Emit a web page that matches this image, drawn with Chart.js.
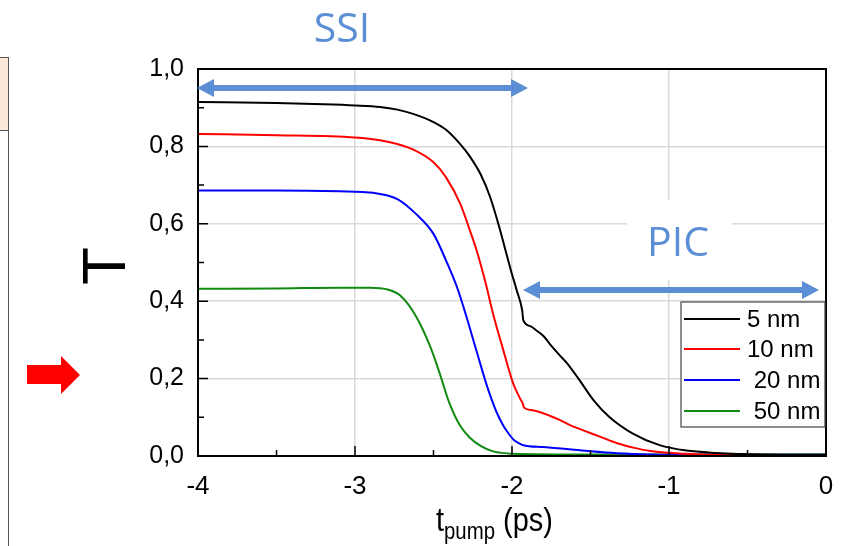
<!DOCTYPE html>
<html>
<head>
<meta charset="utf-8">
<script src="https://cdn.jsdelivr.net/npm/chart.js@4.4.1/dist/chart.umd.min.js"></script>
<style>
  body { margin: 0; background: #fff; }
  #wrap { width: 851px; height: 546px; position: relative; }
</style>
</head>
<body>
<div id="wrap"><canvas id="grafico"></canvas></div>
<script>
// dados (t_pump em ps, T)
const labels = ["5 nm", "10 nm", " 20 nm", " 50 nm"];
const colors = ["#000000", "#ff0000", "#0000ff", "#108a10"];

const t5 = [-4, -3.5, -3.2, -3, -2.84, -2.73, -2.63, -2.5, -2.42, -2.33, -2.27, -2.2, -2.14, -2.08, -2.045, -2.01, -1.97, -1.935, -1.928, -1.88, -1.84, -1.8, -1.76, -1.7, -1.65, -1.57, -1.48, -1.38, -1.23, -1.06, -0.89, -0.7, -0.4, 0];
const T5 = [0.915, 0.912, 0.909, 0.906, 0.902, 0.895, 0.884, 0.863, 0.843, 0.806, 0.775, 0.728, 0.670, 0.590, 0.537, 0.484, 0.428, 0.376, 0.351, 0.335, 0.323, 0.310, 0.290, 0.262, 0.240, 0.196, 0.144, 0.101, 0.058, 0.028, 0.014, 0.008, 0.004, 0.003];

const t10 = [-4, -3.5, -3, -2.84, -2.73, -2.63, -2.5, -2.42, -2.33, -2.27, -2.225, -2.17, -2.119, -2.055, -1.992, -1.949, -1.932, -1.923, -1.87, -1.82, -1.76, -1.69, -1.63, -1.55, -1.44, -1.33, -1.22, -1.12, -0.91, -0.6, 0];
const T10 = [0.832, 0.829, 0.823, 0.816, 0.806, 0.792, 0.759, 0.720, 0.652, 0.585, 0.531, 0.450, 0.365, 0.273, 0.187, 0.149, 0.136, 0.125, 0.118, 0.113, 0.104, 0.092, 0.080, 0.067, 0.050, 0.033, 0.021, 0.013, 0.006, 0.003, 0.002];

const t20 = [-4, -3.5, -3.1, -2.88, -2.73, -2.61, -2.5, -2.42, -2.35, -2.29, -2.225, -2.16, -2.1, -2.055, -2.02, -1.992, -1.96, -1.928, -1.8, -1.65, -1.5, -1.33, -1.12, -0.8, 0];
const T20 = [0.686, 0.686, 0.684, 0.680, 0.664, 0.625, 0.574, 0.505, 0.436, 0.360, 0.270, 0.182, 0.115, 0.078, 0.057, 0.043, 0.034, 0.028, 0.023, 0.018, 0.012, 0.007, 0.004, 0.003, 0.003];

const t50 = [-4, -3.5, -3.1, -2.9, -2.8, -2.71, -2.61, -2.52, -2.46, -2.4, -2.33, -2.27, -2.2, -2.12, -2, -1.5, 0];
const T50 = [0.432, 0.433, 0.435, 0.435, 0.431, 0.414, 0.360, 0.282, 0.213, 0.138, 0.078, 0.048, 0.026, 0.012, 0.006, 0.004, 0.004];

const xTicks = [-4, -3, -2, -1, 0];
const yTicks = [0, 0.2, 0.4, 0.6, 0.8, 1.0];

const seriesT = [t5, t10, t20, t50];
const seriesV = [T5, T10, T20, T50];

const FONTE = "'Liberation Sans', Arial, sans-serif";
const AZUL = "#5b8ed5";

const datasets = seriesV.map((vals, i) => ({
    label: labels[i],
    data: vals.map((v, j) => ({ x: seriesT[i][j], y: v })),
    borderColor: colors[i],
    borderWidth: 2,
    pointRadius: 0,
    fill: false,
    cubicInterpolationMode: "monotone"
}));

function setaDupla(ctx, x1, x2, y) {
    const head = 17, half = 9, shaft = 3;
    ctx.fillStyle = AZUL;
    ctx.beginPath();
    ctx.moveTo(x1, y);
    ctx.lineTo(x1 + head, y - half);
    ctx.lineTo(x1 + head, y - shaft);
    ctx.lineTo(x2 - head, y - shaft);
    ctx.lineTo(x2 - head, y - half);
    ctx.lineTo(x2, y);
    ctx.lineTo(x2 - head, y + half);
    ctx.lineTo(x2 - head, y + shaft);
    ctx.lineTo(x1 + head, y + shaft);
    ctx.lineTo(x1 + head, y + half);
    ctx.closePath();
    ctx.fill();
}

// desenha tudo que nao e do grafico em si
const extras = {
    id: "extras",
    beforeDatasetsDraw(chart) {
        const ctx = chart.ctx;
        ctx.save();
        // caixa branca do texto PIC (corta a grade)
        ctx.fillStyle = "#fff";
        ctx.fillRect(627, 200, 105, 80);
        ctx.restore();
    },
    afterDatasetsDraw(chart) {
        const ctx = chart.ctx;
        const a = chart.chartArea;
        const xs = chart.scales.x, ys = chart.scales.y;
        ctx.save();

        // moldura
        ctx.strokeStyle = "#000";
        ctx.lineWidth = 2;
        ctx.strokeRect(a.left, a.top, a.right - a.left, a.bottom - a.top);

        // ticks para dentro
        ctx.lineWidth = 1.5;
        ctx.beginPath();
        for (let v = -4; v <= 0.001; v += 0.5) {
            const px = xs.getPixelForValue(v);
            const len = Math.abs(v - Math.round(v)) < 0.01 ? 10 : 6;
            ctx.moveTo(px, a.bottom);
            ctx.lineTo(px, a.bottom - len);
        }
        for (let v = 0; v <= 1.001; v += 0.1) {
            const py = ys.getPixelForValue(v);
            const len = Math.round(v * 10) % 2 === 0 ? 10 : 6;
            ctx.moveTo(a.left, py);
            ctx.lineTo(a.left + len, py);
        }
        ctx.stroke();

        // legenda
        const lx = 681, ly = 302, lw = 144, lh = 125;
        ctx.fillStyle = "#fff";
        ctx.fillRect(lx, ly, lw, lh);
        ctx.strokeStyle = "#444";
        ctx.lineWidth = 1.2;
        ctx.strokeRect(lx, ly, lw, lh);
        ctx.font = "24px " + FONTE;
        ctx.textBaseline = "middle";
        const rows = [319, 349, 380, 411];
        chart.data.datasets.forEach((ds, i) => {
            ctx.strokeStyle = ds.borderColor;
            ctx.lineWidth = 2;
            ctx.beginPath();
            ctx.moveTo(lx + 3, rows[i]);
            ctx.lineTo(lx + 59, rows[i]);
            ctx.stroke();
            ctx.fillStyle = "#000";
            ctx.fillText(ds.label, lx + 66, rows[i] + 1);
        });

        // setas SSI e PIC
        setaDupla(ctx, 197, 528, 88);
        setaDupla(ctx, 523, 819, 290);
        ctx.fillStyle = AZUL;
        ctx.font = "41px 'Open Sans', 'Noto Sans', sans-serif";
        ctx.textBaseline = "alphabetic";
        ctx.textAlign = "center";
        ctx.fillText("SSI", 342, 42);
        ctx.fillText("PIC", 678, 256);

        // titulo eixo y
        ctx.fillStyle = "#000";
        ctx.save();
        ctx.translate(108, 266);
        ctx.rotate(-Math.PI / 2);
        ctx.font = "62px " + FONTE;
        ctx.textBaseline = "middle";
        ctx.fillText("T", 0, 0);
        ctx.restore();

        // titulo eixo x com subscrito (fonte um pouco estreita)
        ctx.save();
        ctx.translate(436, 0);
        ctx.scale(0.85, 1);
        ctx.textAlign = "left";
        ctx.font = "34px " + FONTE;
        let x0 = 0;
        ctx.fillText("t", x0, 531);
        x0 += ctx.measureText("t").width;
        ctx.font = "24px " + FONTE;
        ctx.fillText("pump", x0, 539);
        x0 += ctx.measureText("pump").width;
        ctx.font = "34px " + FONTE;
        ctx.fillText(" (ps)", x0, 531);
        ctx.restore();

        // pedaco do slide a esquerda
        ctx.fillStyle = "#fde9d9";
        ctx.fillRect(0, 57, 8, 73);
        ctx.strokeStyle = "#555";
        ctx.lineWidth = 1;
        ctx.beginPath();
        ctx.moveTo(0, 57.5); ctx.lineTo(8.5, 57.5);
        ctx.moveTo(0, 130.5); ctx.lineTo(8.5, 130.5);
        ctx.moveTo(8.5, 57); ctx.lineTo(8.5, 546);
        ctx.stroke();

        // seta vermelha
        ctx.fillStyle = "#ff0000";
        ctx.beginPath();
        ctx.moveTo(27, 365);
        ctx.lineTo(61, 365);
        ctx.lineTo(61, 356);
        ctx.lineTo(80, 375);
        ctx.lineTo(61, 394);
        ctx.lineTo(61, 384);
        ctx.lineTo(27, 384);
        ctx.closePath();
        ctx.fill();

        ctx.restore();
    }
};

const chart = new Chart(document.getElementById("grafico"), {
    type: "line",
    data: { datasets: datasets },
    options: {
        responsive: true,
        maintainAspectRatio: false,
        animation: false,
        layout: { padding: { left: 0, top: 69, right: 25, bottom: 0 } },
        plugins: { legend: { display: false }, tooltip: { enabled: false } },
        scales: {
            x: {
                type: "linear",
                min: -4,
                max: 0,
                afterBuildTicks: (s) => { s.ticks = xTicks.map(v => ({ value: v })); },
                afterFit: (s) => { s.height = 90; },
                ticks: {
                    color: "#000",
                    padding: 15,
                    font: { family: FONTE, size: 26 },
                    callback: (v) => String(v)
                },
                grid: { color: "#d9d9d9", lineWidth: 1.5, drawTicks: false },
                border: { display: false }
            },
            y: {
                min: 0,
                max: 1,
                afterBuildTicks: (s) => { s.ticks = yTicks.map(v => ({ value: v })); },
                afterFit: (s) => { s.width = 198; },
                ticks: {
                    color: "#000",
                    padding: 14,
                    font: { family: FONTE, size: 25 },
                    callback: (v) => v.toFixed(1).replace(".", ",")
                },
                grid: { color: "#d9d9d9", lineWidth: 1.5, drawTicks: false },
                border: { display: false }
            }
        }
    },
    plugins: [extras]
});
</script>
</body>
</html>
